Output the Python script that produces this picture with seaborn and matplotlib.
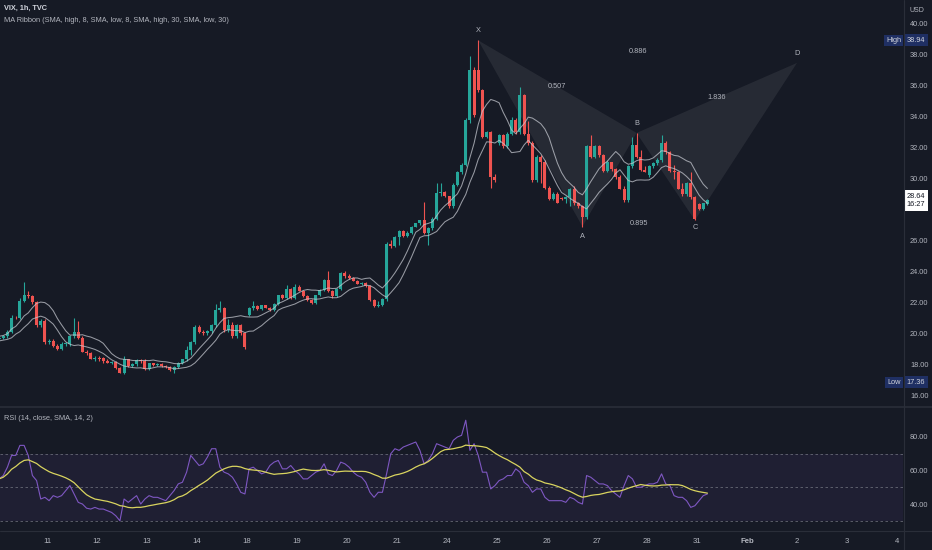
import numpy as np
import pandas as pd
import matplotlib
matplotlib.use("Agg")
import matplotlib.pyplot as plt
import matplotlib.transforms as mtransforms
from matplotlib.patches import Polygon
from matplotlib.lines import Line2D
import seaborn as sns

BG = "#161a25"
UP = "#26a69a"
DOWN = "#ef5350"
TEXT = "#b2b5be"
BORDER = "#2a2e39"
BARS_PER_DAY = 12
FS = 5.3

# session labels on the time axis (one slot per trading day, future days at the end)
day_labels = ["10", "11", "12", "13", "14", "18", "19", "20", "21",
              "24", "25", "26", "27", "28", "31", "Feb", "2", "3", "4"]

# VIX 1h candles, 12 per session
open_ = [
    19.6, 19.7, 19.8, 20.1, 21.0, 21.0, 22.1, 22.5, 22.4, 22.0, 20.5, 20.8,      # 10
    19.4, 19.5, 19.2, 19.0, 19.3, 19.3, 19.8, 20.1, 19.7, 18.8, 18.7, 18.35,     # 11
    18.4, 18.4, 18.2, 18.1, 18.15, 17.75, 17.4, 18.3, 17.9, 18.0, 18.25, 18.2,   # 12
    17.7, 18.05, 17.95, 18.0, 17.85, 17.8, 17.6, 17.8, 18.1, 18.3, 18.9, 19.4,   # 13
    20.4, 20.1, 20.0, 20.15, 20.5, 21.5, 21.6, 20.2, 20.5, 19.8, 20.5, 20.0,     # 14
    21.2, 21.6, 21.75, 21.55, 21.8, 21.65, 21.5, 21.9, 22.45, 22.25, 22.85, 22.25,  # 18
    23.0, 22.75, 22.4, 22.15, 21.95, 22.45, 22.8, 23.45, 22.7, 22.4, 22.85, 23.9,   # 19
    23.7, 23.6, 23.4, 23.2, 23.25, 23.05, 22.15, 21.75, 21.8, 22.2, 25.8, 25.65,    # 20
    26.2, 26.6, 26.3, 26.5, 26.9, 27.1, 27.3, 26.5, 26.8, 27.4, 29.05, 29.1,        # 21
    28.85, 28.2, 29.6, 30.4, 30.9, 33.8, 37.0, 37.0, 35.7, 32.7, 33.0, 30.1,        # 24
    32.3, 32.8, 32.1, 32.9, 33.8, 33.0, 35.4, 32.9, 32.3, 29.9, 31.4, 31.1,         # 25
    29.4, 28.7, 29.0, 28.75, 28.65, 28.8, 29.35, 28.4, 28.2, 27.5, 32.1, 31.4,      # 26
    32.1, 31.5, 30.5, 31.1, 30.6, 30.1, 29.35, 28.6, 30.8, 32.2, 31.4, 30.55,       # 27
    30.2, 30.8, 31.0, 31.2, 32.3, 31.7, 30.5, 30.45, 29.35, 29.0, 29.7, 28.8,       # 28
    28.35, 28.0, 28.35,                                                             # 31
]
high = [
    19.8, 19.9, 20.2, 21.2, 21.1, 22.3, 23.3, 22.7, 22.5, 22.1, 20.9, 20.9,
    19.6, 19.6, 19.3, 19.4, 19.4, 19.9, 21.0, 20.8, 19.8, 18.9, 18.8, 18.5,
    18.5, 18.45, 18.3, 18.2, 18.2, 17.8, 18.5, 18.35, 18.1, 18.3, 18.35, 18.3,
    18.1, 18.1, 18.05, 18.05, 17.95, 17.9, 17.85, 18.15, 18.35, 19.2, 19.5, 20.5,
    20.5, 20.2, 20.2, 20.6, 21.9, 22.05, 21.7, 20.9, 20.7, 20.6, 20.6, 20.1,
    21.7, 22.05, 21.8, 21.85, 21.85, 21.7, 21.95, 22.5, 22.55, 23.1, 22.9, 23.2,
    23.1, 22.8, 22.45, 22.2, 22.5, 22.85, 23.5, 24.0, 22.8, 22.9, 23.95, 24.0,
    23.8, 23.65, 23.45, 23.3, 23.3, 23.1, 22.2, 22.1, 22.3, 25.9, 26.0, 26.3,
    26.7, 26.65, 26.6, 26.95, 27.15, 27.35, 28.5, 26.9, 27.5, 29.7, 29.7, 29.2,
    28.9, 29.7, 30.5, 31.0, 33.9, 37.9, 37.2, 38.94, 35.8, 33.1, 33.1, 30.3,
    32.9, 32.9, 33.0, 34.0, 33.9, 35.9, 35.5, 33.7, 32.4, 31.5, 31.5, 31.2,
    29.5, 29.1, 29.1, 28.8, 28.9, 29.4, 29.5, 28.5, 28.3, 32.2, 32.8, 32.2,
    32.2, 31.6, 31.2, 31.1, 30.7, 30.2, 29.5, 30.9, 32.7, 32.95, 31.85, 30.8,
    30.9, 31.1, 31.3, 32.8, 32.4, 31.8, 30.9, 30.5, 29.7, 29.8, 30.45, 28.9,
    28.4, 28.45, 28.7,
]
low = [
    19.5, 19.6, 19.7, 20.0, 20.9, 20.9, 22.0, 22.3, 21.9, 20.4, 20.4, 19.3,
    19.3, 19.1, 18.9, 18.9, 19.2, 19.2, 19.7, 19.6, 18.8, 18.6, 18.3, 18.2,
    18.2, 18.1, 18.05, 18.0, 17.7, 17.4, 17.36, 17.8, 17.8, 17.9, 18.1, 17.6,
    17.65, 17.9, 17.85, 17.8, 17.75, 17.55, 17.45, 17.75, 18.0, 18.2, 18.6, 19.3,
    20.0, 19.9, 19.9, 20.0, 20.4, 21.4, 20.1, 20.1, 19.7, 19.7, 19.9, 19.0,
    21.1, 21.5, 21.5, 21.5, 21.6, 21.45, 21.45, 21.8, 22.2, 22.2, 22.2, 22.2,
    22.7, 22.35, 22.1, 21.9, 21.9, 22.4, 22.75, 22.65, 22.3, 22.35, 22.8, 23.6,
    23.5, 23.35, 23.15, 23.1, 23.0, 22.1, 21.7, 21.7, 21.75, 22.1, 25.5, 25.6,
    25.7, 26.2, 26.25, 26.4, 26.85, 27.0, 26.4, 25.7, 26.7, 27.3, 28.9, 28.8,
    28.1, 28.1, 29.5, 30.3, 30.8, 33.6, 34.0, 35.6, 32.6, 32.6, 29.4, 29.8,
    32.2, 32.0, 32.0, 32.8, 32.9, 32.9, 32.8, 32.2, 29.8, 29.8, 29.7, 29.3,
    28.6, 28.6, 28.4, 28.6, 28.4, 28.2, 28.3, 28.1, 26.9, 27.4, 31.3, 31.3,
    31.4, 30.4, 30.4, 30.5, 30.0, 29.3, 28.5, 28.5, 30.7, 31.3, 30.5, 30.4,
    30.1, 30.7, 30.9, 31.1, 31.6, 30.4, 30.0, 29.3, 28.9, 28.9, 28.7, 27.3,
    27.95, 27.95, 28.3,
]
close = [
    19.7, 19.8, 20.1, 21.0, 20.95, 22.1, 22.5, 22.4, 22.0, 20.5, 20.8, 19.4,
    19.5, 19.2, 19.0, 19.3, 19.35, 19.8, 20.1, 19.7, 18.8, 18.7, 18.35, 18.4,
    18.35, 18.2, 18.1, 18.15, 17.75, 17.4, 18.3, 17.9, 18.0, 18.25, 18.2, 17.7,
    18.05, 17.95, 18.0, 17.85, 17.8, 17.6, 17.8, 18.1, 18.3, 18.9, 19.4, 20.4,
    20.1, 20.0, 20.15, 20.5, 21.5, 21.6, 20.2, 20.5, 19.8, 20.5, 20.0, 19.1,
    21.6, 21.75, 21.55, 21.8, 21.65, 21.5, 21.9, 22.45, 22.25, 22.85, 22.25, 23.0,
    22.75, 22.4, 22.15, 21.95, 22.45, 22.8, 23.45, 22.7, 22.4, 22.85, 23.9, 23.7,
    23.6, 23.4, 23.2, 23.25, 23.05, 22.15, 21.75, 21.8, 22.2, 25.8, 25.65, 26.2,
    26.6, 26.3, 26.5, 26.9, 27.1, 27.3, 26.5, 26.8, 27.4, 29.05, 29.1, 28.85,
    28.2, 29.6, 30.4, 30.9, 33.8, 37.0, 34.1, 35.7, 32.7, 33.0, 30.1, 29.9,
    32.8, 32.1, 32.9, 33.8, 33.0, 35.4, 32.9, 32.3, 29.9, 31.4, 31.1, 29.4,
    28.7, 29.0, 28.45, 28.65, 28.8, 29.35, 28.4, 28.2, 27.5, 32.1, 31.4, 32.1,
    31.5, 30.5, 31.1, 30.6, 30.1, 29.35, 28.6, 30.8, 32.2, 31.4, 30.55, 30.45,
    30.8, 31.0, 31.2, 32.3, 31.7, 30.5, 30.45, 29.35, 29.0, 29.7, 28.8, 27.4,
    28.0, 28.4, 28.64,
]

# RSI(14) as drawn in the lower pane
rsi = [
    55, 57, 62, 69, 69, 75, 75, 69, 57, 54, 43, 44,
    42, 45, 44, 45, 48, 51, 46, 41, 40, 37.5, 37, 38,
    37, 37, 36, 35, 33, 30, 43, 41, 43, 45, 40, 43,
    45, 44, 44, 43, 42, 45, 48, 52, 53, 59, 69, 66,
    63, 64, 68, 73, 73, 62, 59, 58, 56, 52, 47, 46,
    61, 62, 60, 58, 59, 63, 65, 66, 61, 61, 63, 60,
    58, 55, 55, 57, 59, 60, 64, 58, 57, 60, 65, 64,
    62, 59, 57, 56, 53, 47, 44, 47, 47, 58, 70, 73,
    72, 74, 75, 76, 77, 72, 64, 66, 70, 76, 75, 74,
    73, 78, 80, 81, 90, 72, 76, 69, 59, 59, 49, 51,
    54, 55, 57, 57, 61, 59, 53, 51, 47, 49, 49, 44,
    42, 42, 42, 42, 41, 44, 43, 41, 40, 57, 56, 54,
    52, 52, 51, 48, 46, 44, 51, 57, 55, 50, 50, 51,
    52, 52, 53, 58, 52, 51, 45, 44, 44, 42, 38, 39,
    42, 45, 46,
]

# 28.00 sits under the last-price tag, so the scale skips it
price_ticks = [16, 18, 20, 22, 24, 26, 30, 32, 34, 36, 38, 40]
rsi_ticks = [40, 60, 80]
rsi_levels = [70, 50, 30]

pattern_labels = ["X", "A", "B", "C", "D"]
ratio_labels = ["0.507", "0.895", "1.836", "0.886"]   # XB, AC, BD, XD
d_session = "2"       # projected D point sits on the Feb 2 session
d_price = 37.48
countdown = "16:27"

sns.set_theme(style="dark", rc={
    "axes.facecolor": BG, "figure.facecolor": BG, "axes.edgecolor": BG,
    "text.color": TEXT, "xtick.color": TEXT, "ytick.color": TEXT,
})
plt.rcParams["font.family"] = ["Liberation Sans", "DejaVu Sans"]

df = pd.DataFrame({"open": open_, "high": high, "low": low, "close": close, "rsi": rsi})
idx = np.arange(len(df))
df["t"] = idx // BARS_PER_DAY + (idx % BARS_PER_DAY + 0.5) / BARS_PER_DAY
df["ma_high"] = df["high"].rolling(8, min_periods=1).mean()
df["ma_low"] = df["low"].rolling(8, min_periods=1).mean()
df["rsi_ma"] = df["rsi"].rolling(14, min_periods=1).mean()

W, H = 932, 550
fig = plt.figure(figsize=(W / 100, H / 100), dpi=100)
ax = fig.add_axes([0, 1 - 406 / H, 903 / W, 406 / H])
ax2 = fig.add_axes([0, 1 - 530 / H, 903 / W, 123 / H])
xlim = (3 / 50, 906 / 50)

# --- price pane ---
up = df["close"] >= df["open"]
colors = np.where(up, UP, DOWN)
ax.vlines(df["t"], df["low"], df["high"], colors=colors, lw=0.8, zorder=3)
body = np.maximum((df["close"] - df["open"]).abs(), 0.05)
ax.bar(df["t"], body, bottom=np.minimum(df["open"], df["close"]), width=0.062,
       color=colors, linewidth=0, zorder=4)

sns.lineplot(data=df, x="t", y="ma_high", ax=ax, color="#c3c6ce", lw=0.75, alpha=0.75, zorder=5)
sns.lineplot(data=df, x="t", y="ma_low", ax=ax, color="#c3c6ce", lw=0.75, alpha=0.75, zorder=5)

# XABCD pattern pivots taken from the candles
hi = df["high"].to_numpy()
lo = df["low"].to_numpy()
ix = int(np.argmax(hi))
ia = ix + int(np.argmin(lo[ix:]))
ib = ia + int(np.argmax(hi[ia:]))
ic = ib + int(np.argmin(lo[ib:]))
pts = [(df["t"][ix], hi[ix]), (df["t"][ia], lo[ia]), (df["t"][ib], hi[ib]),
       (df["t"][ic], lo[ic]), (day_labels.index(d_session), d_price)]
ax.add_patch(Polygon(pts[0:3], closed=True, fc="white", alpha=0.07, ec="none", zorder=2))
ax.add_patch(Polygon(pts[2:5], closed=True, fc="white", alpha=0.07, ec="none", zorder=2))
offsets = [7, -7, 7, -5, 7]
for lab, (px, py), off in zip(pattern_labels, pts, offsets):
    ax.annotate(lab, (px, py), xytext=(0, off), textcoords="offset points",
                ha="center", va="center", fontsize=FS, color=TEXT, zorder=6)
pairs = [(0, 2), (1, 3), (2, 4), (0, 4)]
for lab, (a, b) in zip(ratio_labels, pairs):
    mx = (pts[a][0] + pts[b][0]) / 2
    my = (pts[a][1] + pts[b][1]) / 2
    ax.text(mx, my, lab, ha="center", va="center", fontsize=FS, color=TEXT, zorder=6)

ax.set_xlim(*xlim)
ax.set_ylim(15.29, 41.55)
ax.yaxis.tick_right()
ax.set_yticks(price_ticks)
ax.set_yticklabels([f"{v:.2f}" for v in price_ticks])
ax.tick_params(axis="y", length=0, pad=5, labelsize=FS, labelcolor=TEXT)
ax.set_xticks([])
ax.set_xlabel("")
ax.set_ylabel("")
ax.grid(False)

# high / low / last price markers on the scale
tr = mtransforms.blended_transform_factory(ax.transAxes, ax.transData)
navy = "#1f2f63"
for word, val, dy in [("High", max(high), 0), ("Low", min(low), -6)]:
    t_off = mtransforms.offset_copy(tr, fig=fig, x=0, y=dy, units="points")
    ax.text(0.998, val, word, transform=t_off, ha="right", va="center", fontsize=FS,
            color="#d1d4dc", clip_on=False, zorder=7,
            bbox=dict(boxstyle="square,pad=0.3", fc=navy, ec="none"))
    ax.text(1.004, val, f"{val:.2f}", transform=t_off, ha="left", va="center", fontsize=FS,
            color="#d1d4dc", clip_on=False, zorder=7,
            bbox=dict(boxstyle="square,pad=0.35", fc=navy, ec="none"))
ax.text(1.004, close[-1] + 0.42, f"{close[-1]:.2f}\n{countdown}", transform=tr, ha="left",
        va="top", fontsize=FS, color="#131722", linespacing=1.15, clip_on=False, zorder=7,
        bbox=dict(boxstyle="square,pad=0.4", fc="white", ec="none"))

# --- RSI pane ---
ax2.axhspan(30, 70, color="#7e57c2", alpha=0.09, lw=0)
for lv in rsi_levels:
    ax2.axhline(lv, color="#787b86", lw=0.6, ls=(0, (3, 3)), alpha=0.8)
sns.lineplot(data=df, x="t", y="rsi", ax=ax2, color="#7e57c2", lw=0.8)
sns.lineplot(data=df, x="t", y="rsi_ma", ax=ax2, color="#d9d45f", lw=0.9)
ax2.set_xlim(*xlim)
ax2.set_ylim(24.5, 97.9)
ax2.yaxis.tick_right()
ax2.set_yticks(rsi_ticks)
ax2.set_yticklabels([f"{v:.2f}" for v in rsi_ticks])
ax2.tick_params(axis="y", length=0, pad=5, labelsize=FS, labelcolor=TEXT)
ax2.set_xticks(range(1, len(day_labels)))
ax2.set_xticklabels(day_labels[1:])
ax2.tick_params(axis="x", length=0, pad=6, labelsize=5.6, labelcolor=TEXT)
for lab in ax2.get_xticklabels():
    if lab.get_text() == "Feb":
        lab.set_fontweight("bold")
ax2.set_xlabel("")
ax2.set_ylabel("")
ax2.grid(False)

for a in (ax, ax2):
    for s in a.spines.values():
        s.set_visible(False)

# pane borders
fig.add_artist(Line2D([0, 1], [1 - 406.5 / H] * 2, color=BORDER, lw=1.2))
fig.add_artist(Line2D([0, 1], [1 - 530.5 / H] * 2, color=BORDER, lw=0.8))
fig.add_artist(Line2D([903.5 / W] * 2, [0, 1], color=BORDER, lw=0.8))

fig.text(4 / W, 1 - 8 / H, "VIX, 1h, TVC", fontsize=FS, fontweight="bold", color="#d1d4dc", va="center")
fig.text(4 / W, 1 - 20 / H, "MA Ribbon (SMA, high, 8, SMA, low, 8, SMA, high, 30, SMA, low, 30)",
         fontsize=FS, color=TEXT, va="center")
fig.text(4 / W, 1 - 418 / H, "RSI (14, close, SMA, 14, 2)", fontsize=FS, color=TEXT, va="center")
fig.text(917 / W, 1 - 10 / H, "USD", fontsize=5, color=TEXT, ha="center", va="center")

fig.savefig("out.png", dpi=100, facecolor=BG)
